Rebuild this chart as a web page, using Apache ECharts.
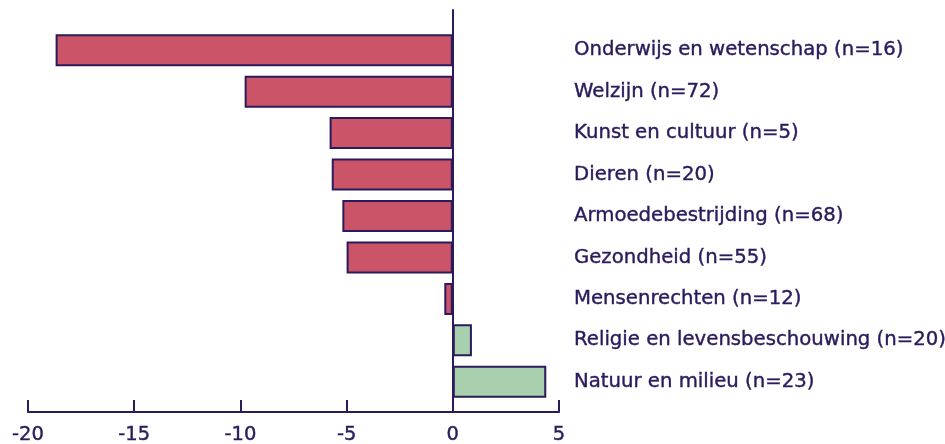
<!DOCTYPE html>
<html>
<head>
<meta charset="utf-8">
<script src="https://cdn.jsdelivr.net/npm/echarts@6/dist/echarts.min.js"></script>
<style>
    html, body { margin: 0; padding: 0; background: #fff; }
    #chart { width: 945px; height: 444px; }
</style>
</head>
<body>
<div id="chart"></div>
<script>
'use strict';

var categories = [
    'Onderwijs en wetenschap (n=16)',
    'Welzijn (n=72)',
    'Kunst en cultuur (n=5)',
    'Dieren (n=20)',
    'Armoedebestrijding (n=68)',
    'Gezondheid (n=55)',
    'Mensenrechten (n=12)',
    'Religie en levensbeschouwing (n=20)',
    'Natuur en milieu (n=23)'
];
var values = [-18.7, -9.8, -5.8, -5.7, -5.2, -5.0, -0.4, 0.9, 4.4];
var xTicks = [-20, -15, -10, -5, 0, 5];

var ink = '#2b1a5c';
var red = '#cc5468';
var green = '#a8cfae';
var font = 'DejaVu Sans';

var chart = echarts.init(document.getElementById('chart'), null, {renderer: 'canvas'});

var option = {
    animation: false,
    grid: [
        {left: 28, right: 386, top: 29.5, bottom: 41.5, containLabel: false, outerBoundsMode: 'none'},
        {left: 28, right: 386, top: 10, bottom: 32, containLabel: false, outerBoundsMode: 'none'}
    ],
    xAxis: [
        {
            gridIndex: 0,
            type: 'value',
            min: xTicks[0],
            max: xTicks[xTicks.length - 1],
            interval: 5,
            offset: 9.5,
            axisLine: {show: true, onZero: false, lineStyle: {color: ink, width: 2}},
            axisTick: {show: true, inside: true, length: 12, lineStyle: {color: ink, width: 2}},
            axisLabel: {
                color: ink, fontFamily: font, fontSize: 19.5, margin: 13,
                textBorderColor: ink, textBorderWidth: 0.4
            },
            splitLine: {show: false}
        },
        {
            gridIndex: 1,
            type: 'value',
            min: xTicks[0],
            max: xTicks[xTicks.length - 1],
            show: false
        }
    ],
    yAxis: [
        {
            gridIndex: 0,
            type: 'category',
            data: categories,
            inverse: true,
            position: 'right',
            axisLine: {show: false, onZero: false},
            axisTick: {show: false},
            axisLabel: {
                color: ink, fontFamily: font, fontSize: 19.7, margin: 15, align: 'left',
                textBorderColor: ink, textBorderWidth: 0.4
            }
        },
        {
            gridIndex: 1,
            type: 'value',
            min: 0,
            max: 1,
            axisLine: {show: true, onZero: true, lineStyle: {color: ink, width: 2}},
            axisTick: {show: false},
            axisLabel: {show: false},
            splitLine: {show: false}
        }
    ],
    series: [
        {
            type: 'bar',
            xAxisIndex: 0,
            yAxisIndex: 0,
            barWidth: 32,
            data: values.map(function (v) {
                return {
                    value: v,
                    itemStyle: {color: v < 0 ? red : green}
                };
            }),
            itemStyle: {borderColor: ink, borderWidth: 2}
        }
    ]
};

chart.setOption(option);
</script>
</body>
</html>
